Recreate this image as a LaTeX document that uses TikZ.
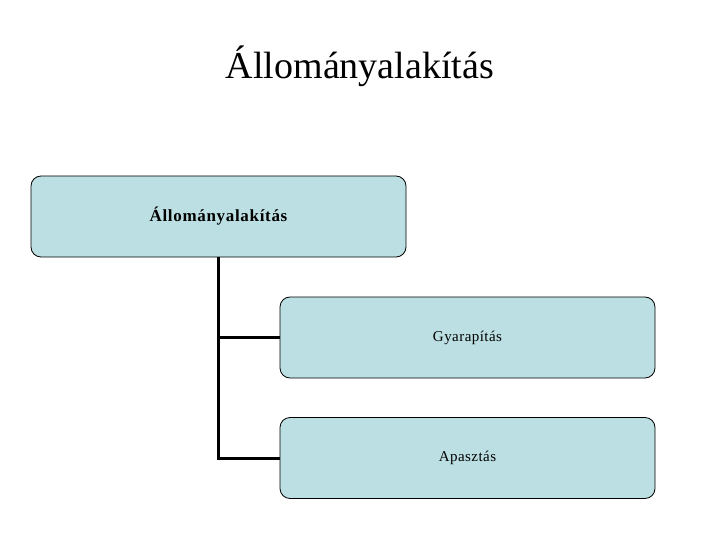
\documentclass[tikz,border=0pt]{standalone}
\usepackage{fontspec}
\setmainfont{Liberation Serif}
\definecolor{boxfill}{HTML}{BCDFE3}
\begin{document}
\begin{tikzpicture}[x=1pt,y=-1pt,
  itembox/.style={draw=black, line width=0.8pt, fill=boxfill, rounded corners=10pt,
    minimum width=375pt, minimum height=81pt, inner sep=0pt},
  conn/.style={draw=black, line width=3pt}]
\useasboundingbox (0,0) rectangle (720,540);
\node[anchor=base, font=\fontsize{38}{44}\selectfont] (title) at (360,79) {Állományalakítás};
\node[itembox, font=\bfseries\fontsize{17}{20}\selectfont] (b1) at (218.5,216.5) {\addfontfeature{LetterSpace=4}Állományalakítás};
\node[itembox, font=\fontsize{15}{18}\selectfont] (b2) at (467.5,337.5) {\addfontfeature{LetterSpace=3}Gyarapítás};
\node[itembox, font=\fontsize{15}{18}\selectfont] (b3) at (467.5,458) {\addfontfeature{LetterSpace=3}Apasztás};
\draw[conn] (b1.south) -- (b1.south |- b3.west) -- (b3.west);
\draw[conn] (b1.south |- b2.west) -- (b2.west);
\end{tikzpicture}
\end{document}
